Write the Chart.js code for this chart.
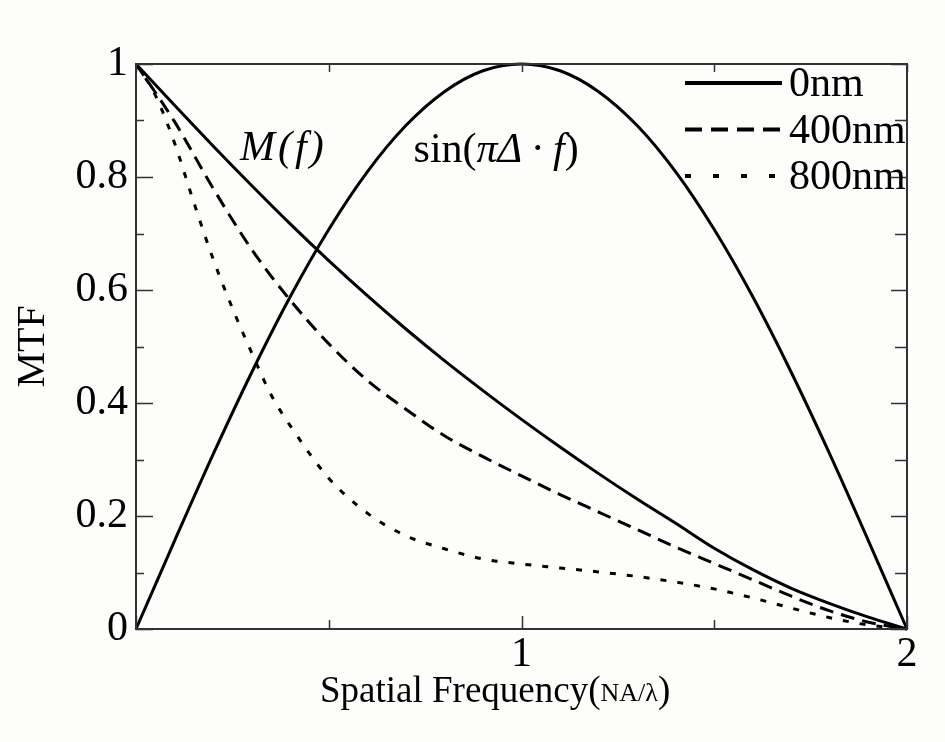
<!DOCTYPE html>
<html><head><meta charset="utf-8">
<script src="https://cdn.jsdelivr.net/npm/chart.js@4.4.1/dist/chart.umd.min.js"></script>
<style>html,body{margin:0;padding:0;background:#fdfdfb;}</style>
</head><body>
<canvas id="c" width="945" height="742"></canvas>
<script>
// ---- data ----
const freq = [0,0.1,0.2,0.3,0.4,0.5,0.6,0.7,0.8,0.9,1.0,1.1,1.2,1.3,1.4,1.5,1.6,1.7,1.8,1.9,2.0];
const mtf0nm = [1.000,0.927,0.855,0.785,0.717,0.652,0.590,0.531,0.475,0.422,0.371,0.322,0.275,0.230,0.187,0.143,0.105,0.072,0.045,0.021,0.000];
const mtf400nm = [1.000,0.898,0.780,0.672,0.582,0.505,0.440,0.389,0.342,0.305,0.271,0.238,0.207,0.176,0.145,0.116,0.087,0.058,0.032,0.012,0.000];
const freq800 = [0,0.05,0.1,0.15,0.2,0.25,0.3,0.35,0.4,0.5,0.6,0.7,0.8,0.9,1.0,1.1,1.2,1.3,1.4,1.5,1.6,1.7,1.8,1.9,2.0];
const mtf800nm = [1.000,0.945,0.860,0.755,0.655,0.568,0.489,0.415,0.360,0.267,0.205,0.165,0.142,0.124,0.115,0.108,0.101,0.093,0.083,0.071,0.055,0.037,0.020,0.007,0.000];
const sineFactor = [0,0.156,0.309,0.454,0.588,0.707,0.809,0.891,0.951,0.988,1.000,0.988,0.951,0.891,0.809,0.707,0.588,0.454,0.309,0.156,0];
const seriesLabels = ['0nm','400nm','800nm'];
const xTickLabels = {1:'1', 2:'2'};
const yTickLabels = {0:'0', 0.2:'0.2', 0.4:'0.4', 0.6:'0.6', 0.8:'0.8', 1:'1'};
const yTitle = 'MTF';
const xTitleMain = 'Spatial Frequency(';
const xTitleUnit = 'NA/\u03bb';
const xTitleEnd = ')';

const serif = '"Liberation Serif","Times New Roman",serif';
const pts = (xs, ys) => xs.map((v,i)=>({x:v, y:ys[i]}));

const decor = {
  id:'decor',
  afterDraw(chart){
    const {ctx, chartArea:a, scales:{x,y}} = chart;
    ctx.save();
    ctx.strokeStyle = '#333'; ctx.lineWidth = 2;
    ctx.strokeRect(a.left, a.top, a.right-a.left, a.bottom-a.top);
    // inward ticks, y
    const yt = y.ticks.map(t=>t.value);
    ctx.lineWidth = 1.5;
    for (let i=0;i<yt.length;i++){
      const vals = [[yt[i], true]];
      if (i<yt.length-1) vals.push([(yt[i]+yt[i+1])/2, false]);
      for (const [v,major] of vals){
        const py = Math.round(y.getPixelForValue(v))+0.5;
        ctx.beginPath();
        ctx.moveTo(a.left, py); ctx.lineTo(a.left + (major?17:8), py);
        ctx.moveTo(a.right, py); ctx.lineTo(a.right - (major?16:12), py);
        ctx.stroke();
      }
    }
    // inward ticks, x
    for (const t of x.ticks){
      const px = Math.round(x.getPixelForValue(t.value))+0.5;
      ctx.beginPath();
      ctx.moveTo(px, a.bottom); ctx.lineTo(px, a.bottom - (Number.isInteger(t.value)?13:9));
      ctx.moveTo(px, a.top); ctx.lineTo(px, a.top + 8);
      ctx.stroke();
    }
    // legend
    ctx.fillStyle = '#000';
    ctx.font = '42px ' + serif;
    ctx.textBaseline = 'middle';
    chart.data.datasets.forEach((ds) => {
      const li = seriesLabels.indexOf(ds.label);
      if (li < 0) return;
      const ly = a.top + 19 + li*46.5;
      ctx.save();
      ctx.strokeStyle = ds.borderColor; ctx.lineWidth = 4;
      ctx.setLineDash(ds.legendDash || []);
      ctx.beginPath(); ctx.moveTo(a.right-222, ly); ctx.lineTo(a.right-125, ly); ctx.stroke();
      ctx.restore();
      ctx.fillText(ds.label, a.right-118, ly+2);
    });
    // annotations
    ctx.textBaseline = 'alphabetic';
    ctx.font = 'italic 42px ' + serif;
    ctx.save();
    ctx.letterSpacing = '3px';
    ctx.fillText('M(f)', x.getPixelForValue(0.27), y.getPixelForValue(0.83));
    ctx.restore();
    let sx = x.getPixelForValue(0.72), sy = y.getPixelForValue(0.826);
    const parts = [['sin(', ''], ['\u03c0', 'italic '], ['\u0394', 'italic '], ['\u2009\u00b7\u2009', ''], ['f', 'italic '], [')', '']];
    for (const [txt, st] of parts){
      ctx.font = st + '42px ' + serif;
      ctx.fillText(txt, sx, sy);
      sx += ctx.measureText(txt).width;
    }
    // x title
    let tx = 320, ty = 702;
    ctx.font = '37px ' + serif; ctx.fillText(xTitleMain, tx, ty); tx += ctx.measureText(xTitleMain).width;
    ctx.font = '26px ' + serif; ctx.fillText(xTitleUnit, tx, ty-1); tx += ctx.measureText(xTitleUnit).width;
    ctx.font = '37px ' + serif; ctx.fillText(xTitleEnd, tx, ty);
    ctx.restore();
  }
};

const common = {borderColor:'#000', borderWidth:3, pointRadius:0, cubicInterpolationMode:'monotone', fill:false};
new Chart(document.getElementById('c'), {
  type:'line',
  data:{datasets:[
    {...common, label:seriesLabels[0], data:pts(freq, mtf0nm), legendDash:[]},
    {...common, label:seriesLabels[1], data:pts(freq, mtf400nm), borderDash:[14,8], legendDash:[17,9]},
    {...common, label:seriesLabels[2], data:pts(freq800, mtf800nm), borderDash:[6,11], legendDash:[6,22]},
    {...common, label:'sin', data:pts(freq, sineFactor)}
  ]},
  options:{
    responsive:false, animation:false, clip:false,
    layout:{padding:{left:10, right:38, top:64, bottom:0}},
    plugins:{legend:{display:false}, tooltip:{enabled:false}},
    scales:{
      x:{type:'linear', min:0, max:2,
        ticks:{stepSize:0.5, autoSkip:false, maxRotation:0, padding:1, color:'#000', font:{family:serif, size:42},
          callback:(v)=>xTickLabels[v] || ''},
        grid:{display:false, drawTicks:false}, border:{display:false},
        afterFit(s){ s.height = 113; }
      },
      y:{min:0, max:1,
        ticks:{stepSize:0.2, padding:8, color:'#000', font:{family:serif, size:42},
          callback:(v)=>yTickLabels[Math.round(v*10)/10] ?? ''},
        grid:{display:false, drawTicks:false}, border:{display:false},
        title:{display:true, text:yTitle, color:'#000', font:{family:serif, size:40, lineHeight:1}, padding:{top:3, bottom:20}},
        afterFit(s){ s.width = 126; }
      }
    }
  },
  plugins:[decor]
});
</script>
</body></html>
